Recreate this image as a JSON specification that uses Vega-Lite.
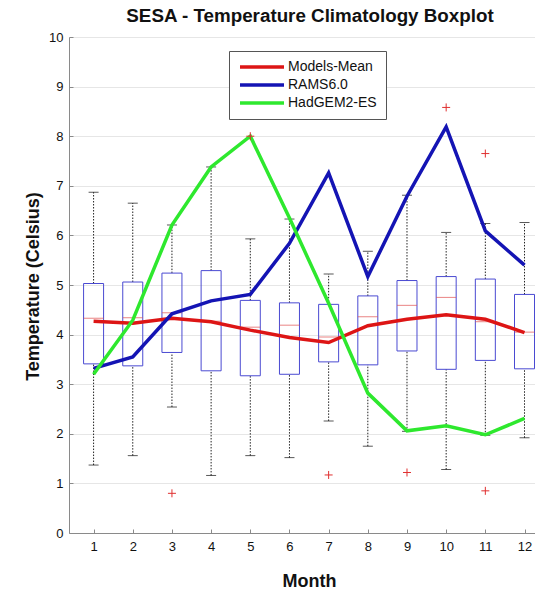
{
  "$schema": "https://vega.github.io/schema/vega-lite/v6.json",
  "width": 466,
  "height": 496,
  "autosize": {"type": "none"},
  "padding": {"left": 69, "top": 37, "right": 0, "bottom": 57},
  "background": "white",
  "config": {
    "view": {"stroke": null},
    "font": "Liberation Sans",
    "axis": {
      "labelFont": "Liberation Sans",
      "labelFontSize": 13,
      "labelColor": "#111111",
      "domainColor": "#8a8a8a",
      "tickColor": "#8a8a8a",
      "tickSize": -4,
      "titleFont": "Liberation Sans",
      "titleFontSize": 18,
      "titleFontWeight": "bold",
      "titleColor": "#111111"
    }
  },
  "title": {
    "text": "SESA - Temperature Climatology Boxplot",
    "font": "Liberation Sans",
    "fontSize": 18.8,
    "fontWeight": "bold",
    "color": "#111111",
    "anchor": "middle",
    "frame": "group",
    "baseline": "alphabetic",
    "dx": 8,
    "dy": 22,
    "offset": 12
  },
  "datasets": {
    "boxes": [
      {"month": 1, "q1": 3.41, "median": 4.33, "q3": 5.03, "lower": 1.37, "upper": 6.87},
      {"month": 2, "q1": 3.37, "median": 4.34, "q3": 5.06, "lower": 1.56, "upper": 6.65},
      {"month": 3, "q1": 3.64, "median": 4.44, "q3": 5.24, "lower": 2.54, "upper": 6.21},
      {"month": 4, "q1": 3.27, "median": 4.27, "q3": 5.29, "lower": 1.16, "upper": 7.38},
      {"month": 5, "q1": 3.17, "median": 4.15, "q3": 4.69, "lower": 1.56, "upper": 5.93},
      {"month": 6, "q1": 3.20, "median": 4.19, "q3": 4.64, "lower": 1.52, "upper": 6.33},
      {"month": 7, "q1": 3.45, "median": 3.95, "q3": 4.61, "lower": 2.26, "upper": 5.22},
      {"month": 8, "q1": 3.39, "median": 4.36, "q3": 4.78, "lower": 1.75, "upper": 5.68},
      {"month": 9, "q1": 3.67, "median": 4.59, "q3": 5.09, "lower": 2.05, "upper": 6.81},
      {"month": 10, "q1": 3.30, "median": 4.75, "q3": 5.17, "lower": 1.28, "upper": 6.06},
      {"month": 11, "q1": 3.48, "median": 4.26, "q3": 5.12, "lower": 1.97, "upper": 6.24},
      {"month": 12, "q1": 3.31, "median": 4.05, "q3": 4.81, "lower": 1.92, "upper": 6.26}
    ],
    "outliers": [
      {"month": 3, "temp": 0.80},
      {"month": 5, "temp": 8.00},
      {"month": 7, "temp": 1.17},
      {"month": 9, "temp": 1.22},
      {"month": 10, "temp": 8.58},
      {"month": 11, "temp": 7.65},
      {"month": 11, "temp": 0.85}
    ],
    "series": [
      {"month": 1, "series": "Models-Mean", "temp": 4.27},
      {"month": 2, "series": "Models-Mean", "temp": 4.23},
      {"month": 3, "series": "Models-Mean", "temp": 4.33},
      {"month": 4, "series": "Models-Mean", "temp": 4.26},
      {"month": 5, "series": "Models-Mean", "temp": 4.09},
      {"month": 6, "series": "Models-Mean", "temp": 3.94},
      {"month": 7, "series": "Models-Mean", "temp": 3.84},
      {"month": 8, "series": "Models-Mean", "temp": 4.18},
      {"month": 9, "series": "Models-Mean", "temp": 4.31},
      {"month": 10, "series": "Models-Mean", "temp": 4.40},
      {"month": 11, "series": "Models-Mean", "temp": 4.31},
      {"month": 12, "series": "Models-Mean", "temp": 4.04},
      {"month": 1, "series": "RAMS6.0", "temp": 3.32},
      {"month": 2, "series": "RAMS6.0", "temp": 3.55},
      {"month": 3, "series": "RAMS6.0", "temp": 4.42},
      {"month": 4, "series": "RAMS6.0", "temp": 4.68},
      {"month": 5, "series": "RAMS6.0", "temp": 4.81},
      {"month": 6, "series": "RAMS6.0", "temp": 5.84},
      {"month": 7, "series": "RAMS6.0", "temp": 7.26},
      {"month": 8, "series": "RAMS6.0", "temp": 5.17},
      {"month": 9, "series": "RAMS6.0", "temp": 6.79},
      {"month": 10, "series": "RAMS6.0", "temp": 8.19},
      {"month": 11, "series": "RAMS6.0", "temp": 6.09},
      {"month": 12, "series": "RAMS6.0", "temp": 5.40},
      {"month": 1, "series": "HadGEM2-ES", "temp": 3.20},
      {"month": 2, "series": "HadGEM2-ES", "temp": 4.29},
      {"month": 3, "series": "HadGEM2-ES", "temp": 6.21},
      {"month": 4, "series": "HadGEM2-ES", "temp": 7.38},
      {"month": 5, "series": "HadGEM2-ES", "temp": 8.00},
      {"month": 6, "series": "HadGEM2-ES", "temp": 6.35},
      {"month": 7, "series": "HadGEM2-ES", "temp": 4.63},
      {"month": 8, "series": "HadGEM2-ES", "temp": 2.82},
      {"month": 9, "series": "HadGEM2-ES", "temp": 2.06},
      {"month": 10, "series": "HadGEM2-ES", "temp": 2.16},
      {"month": 11, "series": "HadGEM2-ES", "temp": 1.98},
      {"month": 12, "series": "HadGEM2-ES", "temp": 2.31}
    ]
  },
  "encoding": {
    "x": {
      "field": "month",
      "type": "quantitative",
      "scale": {"domain": [0.5, 12.14], "nice": false, "zero": false},
      "axis": {
        "values": [1, 2, 3, 4, 5, 6, 7, 8, 9, 10, 11, 12],
        "format": "d",
        "grid": false,
        "labelPadding": 11,
        "title": "Month",
        "titleX": 240,
        "titleY": 53,
        "titleAnchor": null,
        "titleAlign": "center",
        "titleBaseline": "alphabetic"
      }
    }
  },
  "layer": [
    {
      "mark": {"type": "rule", "color": "#8a8a8a", "strokeWidth": 1},
      "encoding": {"y": {"datum": 10, "type": "quantitative"}}
    },
    {
      "data": {"name": "boxes"},
      "mark": {"type": "rule", "color": "#222222", "strokeWidth": 1, "strokeDash": [1.5, 1.5]},
      "encoding": {
        "y": {
          "field": "q3",
          "type": "quantitative",
          "scale": {"domain": [0, 10], "nice": false, "zero": false},
          "axis": {
            "values": [0, 1, 2, 3, 4, 5, 6, 7, 8, 9, 10],
            "grid": true,
            "gridColor": "#e6e6e6",
            "labelPadding": 10,
            "title": "Temperature (Celsius)",
            "titleAngle": 270,
            "titleX": -31,
            "titleY": 249,
            "titleAnchor": null,
            "titleAlign": "center",
            "titleBaseline": "alphabetic"
          }
        },
        "y2": {"field": "upper"}
      }
    },
    {
      "data": {"name": "boxes"},
      "mark": {"type": "rule", "color": "#222222", "strokeWidth": 1, "strokeDash": [1.5, 1.5]},
      "encoding": {
        "y": {"field": "lower", "type": "quantitative"},
        "y2": {"field": "q1"}
      }
    },
    {
      "data": {"name": "boxes"},
      "mark": {"type": "tick", "orient": "horizontal", "color": "#111111", "size": 10, "thickness": 1},
      "encoding": {"y": {"field": "upper", "type": "quantitative"}}
    },
    {
      "data": {"name": "boxes"},
      "mark": {"type": "tick", "orient": "horizontal", "color": "#111111", "size": 10, "thickness": 1},
      "encoding": {"y": {"field": "lower", "type": "quantitative"}}
    },
    {
      "data": {"name": "boxes"},
      "mark": {"type": "bar", "size": 20, "fill": "white", "fillOpacity": 0, "stroke": "#4a4ad2", "strokeWidth": 1},
      "encoding": {
        "y": {"field": "q1", "type": "quantitative"},
        "y2": {"field": "q3"}
      }
    },
    {
      "data": {"name": "boxes"},
      "mark": {"type": "tick", "orient": "horizontal", "color": "#e05050", "size": 20, "thickness": 1},
      "encoding": {"y": {"field": "median", "type": "quantitative"}}
    },
    {
      "data": {"name": "series"},
      "mark": {"type": "line", "strokeWidth": 3.5, "strokeJoin": "miter"},
      "encoding": {
        "y": {"field": "temp", "type": "quantitative"},
        "color": {
          "field": "series",
          "type": "nominal",
          "scale": {
            "domain": ["Models-Mean", "RAMS6.0", "HadGEM2-ES"],
            "range": ["#dd1515", "#1414b4", "#2ee82e"]
          },
          "legend": {
            "orient": "none",
            "legendX": 160,
            "legendY": 14,
            "title": null,
            "symbolType": "M-1,0H7.8",
            "symbolSize": 100,
            "symbolStrokeWidth": 3.5,
            "labelOffset": 36,
            "labelFont": "Liberation Sans",
            "labelFontSize": 14,
            "labelColor": "#111111",
            "rowPadding": 4,
            "padding": 9,
            "strokeColor": "#555555",
            "fillColor": "white"
          }
        }
      }
    },
    {
      "data": {"name": "outliers"},
      "mark": {"type": "point", "shape": "M-1,0H1M0,-1V1", "size": 64, "filled": false, "stroke": "#e03030", "strokeWidth": 1, "opacity": 1},
      "encoding": {"y": {"field": "temp", "type": "quantitative"}}
    }
  ]
}
